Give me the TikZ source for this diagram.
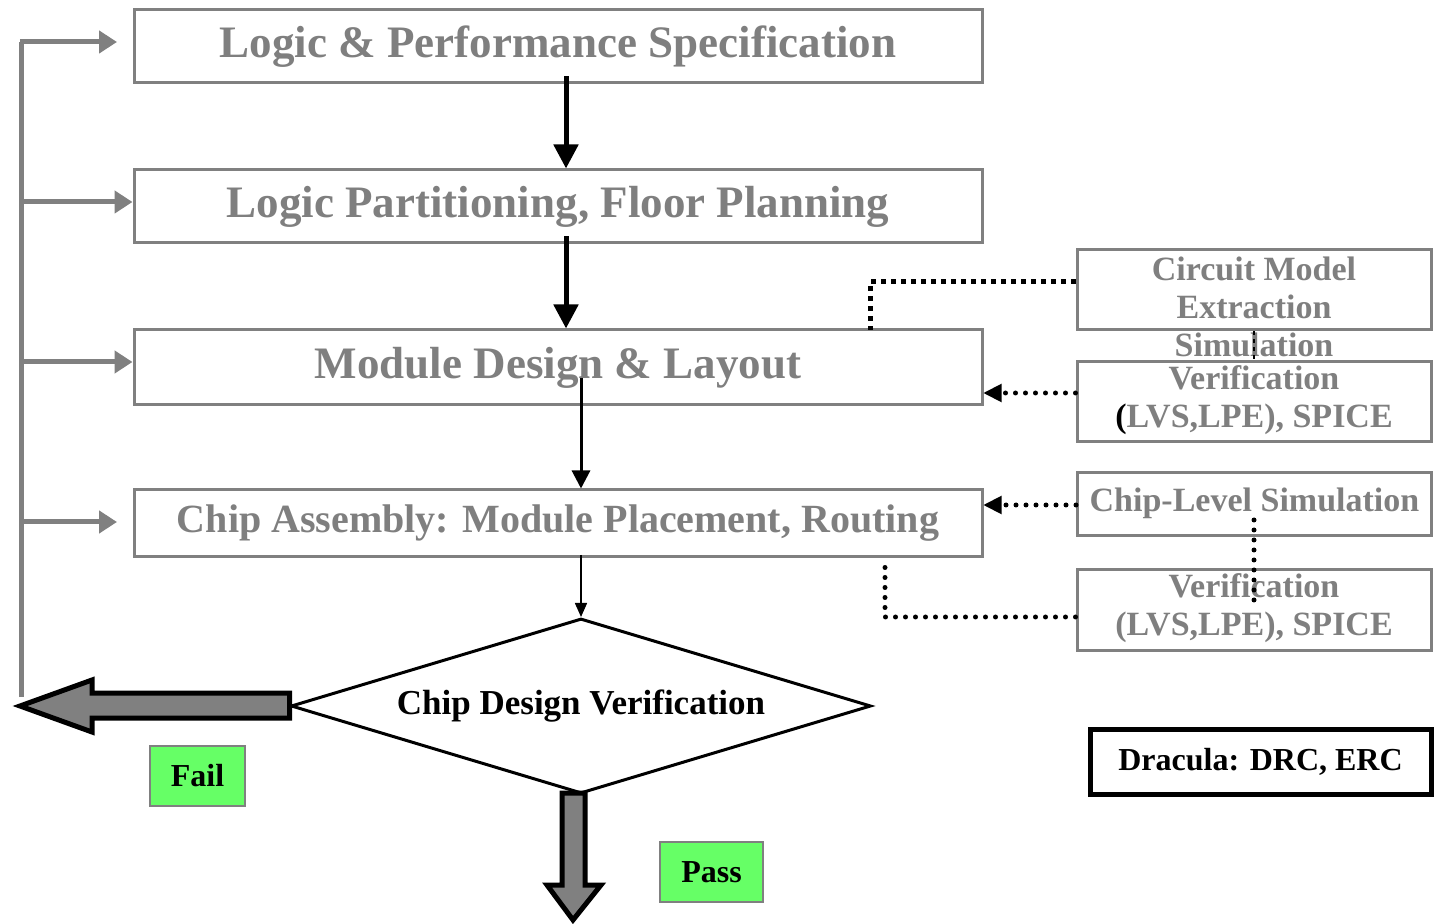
\documentclass[tikz,border=0pt]{standalone}
\usepackage{fontspec}
\setmainfont{Liberation Serif}
\usetikzlibrary{arrows.meta,shapes.geometric}
\definecolor{boxgray}{HTML}{808080}
\definecolor{txtgray}{HTML}{7F7F7F}
\definecolor{passgreen}{HTML}{66FF66}
\tikzset{
  mainbox/.style={draw=boxgray, line width=1.5pt, minimum width=424pt, inner sep=0pt, text=txtgray, font=\bfseries\fontsize{22.5}{26}\selectfont},
  rbox/.style={draw=boxgray, line width=1.5pt, minimum width=177pt, inner sep=0pt},
  rtext/.style={text=txtgray, align=center, inner sep=0pt, font=\bfseries\fontsize{17}{19}\selectfont},
  feed/.style={draw=boxgray, line width=2.5pt, -{Triangle[length=9pt,width=11pt]}},
  thickarr/.style={line width=2.5pt, -{Triangle[length=12pt,width=12pt]}},
  dots/.style={line width=2.5pt, dash pattern=on 0pt off 5pt, line cap=round},
  sqdots/.style={line width=2.5pt, dash pattern=on 2.5pt off 2.5pt},
  tag/.style={draw=boxgray, line width=1pt, fill=passgreen, inner sep=0pt, font=\bfseries\fontsize{16}{19}\selectfont}
}
\begin{document}
\begin{tikzpicture}[x=0.5pt,y=-0.5pt]
\useasboundingbox (0,0) rectangle (1435,924);
% main boxes
\node[mainbox, minimum height=36.5pt] (b1) at (558,46.5) {Logic \& Performance Specification};
\node[mainbox, minimum height=36.5pt] (b2) at (558,206.5) {Logic Partitioning, Floor Planning};
\node[mainbox, minimum height=37.5pt] (b3) at (558,367.5) {Module Design \& Layout};
\node[mainbox, minimum height=33.5pt, font=\bfseries\fontsize{20}{23}\selectfont] (b4) at (558,523.5) {Chip Assembly: Module Placement, Routing};
% diamond
\node[diamond, draw, line width=1.5pt, minimum width=290pt, minimum height=87.5pt, inner sep=0pt, aspect=3.3, font=\bfseries\fontsize{17.5}{20}\selectfont] (dv) at (581,706) {Chip Design Verification};
% right boxes
\node[rbox, minimum height=40pt] (r1) at (1254,290) {};
\node[rtext] (r1t) at (1254,307) {Circuit Model\\Extraction\\Simulation};
\node[rbox, minimum height=40pt] (r2) at (1254,402) {};
\node[rtext] (r2t) at (1254,400) {Verification\\\textcolor{black}{(}LVS,LPE), SPICE};
\node[rbox, minimum height=31.5pt] (r3) at (1254.5,504.5) {};
\node[rtext] (r3t) at (1254.5,503) {Chip-Level Simulation};
\node[rbox, minimum height=40.5pt] (r4) at (1254,610.5) {};
\node[rtext] (r4t) at (1254,608) {Verification\\(LVS,LPE), SPICE};
% Dracula
\node[draw, line width=2.5pt, minimum width=170.5pt, minimum height=32.5pt, inner sep=0pt, font=\bfseries\fontsize{16}{19}\selectfont] (dr) at (1260.5,761.5) {Dracula: DRC, ERC};
% tags
\node[tag, minimum width=47.5pt, minimum height=30pt] (fail) at (197.5,776) {Fail};
\node[tag, minimum width=51.5pt, minimum height=30pt] (pass) at (711.5,872) {Pass};
% main flow arrows
\draw[thickarr] ([xshift=4pt]b1.south) ++(0,-8) -- ([xshift=4pt]b2.north);
\draw[thickarr] ([xshift=4pt]b2.south) ++(0,-8) -- ([xshift=4pt]b3.north);
\draw[line width=1.5pt, -{Triangle[length=9pt,width=9pt]}] (581,378) -- (b4.north -| 581,0);
\draw[line width=0.75pt, -{Triangle[length=7pt,width=6pt]}] (581,555) -- (dv.north);
% feedback
\coordinate (fb0) at (21,697);
\coordinate (fb1) at (21,42);
\draw[draw=boxgray, line width=2.5pt] (fb0) -- (fb1);
\draw[feed] (19.75,42) -- (117,42);
\draw[feed] (21,202) -- (b2.west |- 21,202);
\draw[feed] (21,362) -- (b3.west |- 21,362);
\draw[feed] (21,522) -- (117,522);
% fail / pass block arrows
\draw[line width=2.5pt, fill=boxgray, line join=miter]
  ([yshift=6.5pt]dv.west) -- (92,693) -- (92,680) -- (20,706) -- (92,732) -- (92,718) -- ([yshift=-6pt]dv.west) -- cycle;
\draw[line width=2.5pt, fill=boxgray, line join=miter]
  (562,793) -- (562,885) -- (547,885) -- (573,920) -- (601,885) -- (585,885) -- (585,793) -- cycle;
% dotted connectors
\draw[sqdots] (r1.west |- 0,282) -- (870,282) -- (870,330);
\draw[line width=1pt, dash pattern=on 2pt off 2pt] (r1.south) -- (r2.north);
\draw[dots] (r2.west |- 0,393) -- (994,393);
\draw[-{Triangle[length=9pt,width=9pt]}, line width=1pt] (995,393) -- (b3.east |- 0,393);
\draw[dots] (r3.west |- 0,505) -- (994,505);
\draw[-{Triangle[length=9pt,width=9pt]}, line width=1pt] (995,505) -- (b4.east |- 0,505);
\draw[dots] (1254,520) -- (1254,608);
\draw[dots] (r4.west |- 0,617) -- (885,617) -- (b4.south -| 885,0);
\end{tikzpicture}
\end{document}
